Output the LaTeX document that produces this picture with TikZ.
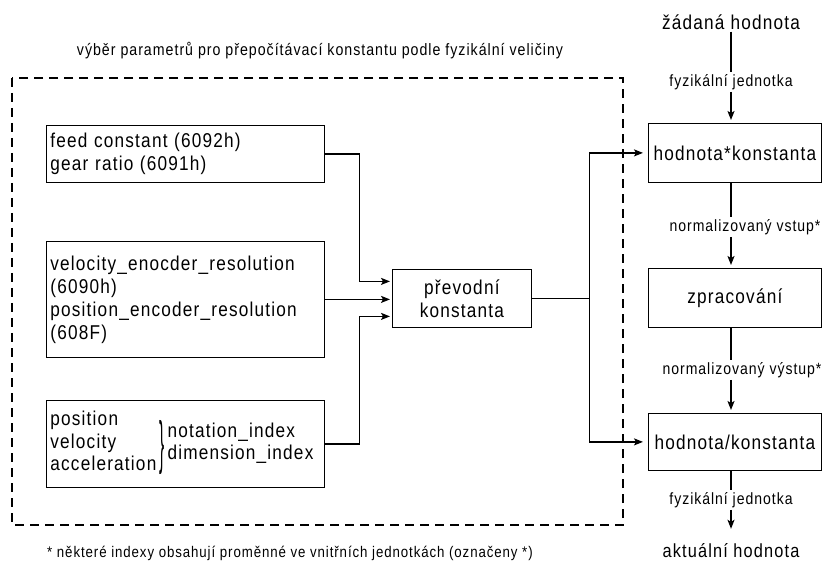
\documentclass[tikz,border=0pt]{standalone}
\usepackage{graphicx}
\usepackage{fontspec}
\setmainfont{Liberation Sans}[FakeStretch=0.86,LetterSpace=6]
\usetikzlibrary{arrows.meta,calc}

\begin{document}
\begin{tikzpicture}[x=1pt,y=-1pt,
  box/.style={draw, line width=0.8pt, inner xsep=4pt, inner ysep=0pt,
    font=\fontsize{20}{23}\selectfont},
  leftbox/.style={box, anchor=north west, text width=270pt, align=left,
    minimum width=278pt},
  rightbox/.style={box, anchor=north west, minimum width=173pt, align=center},
  wire/.style={line width=1.3pt},
  conn/.style={wire, -{Stealth[length=9pt,width=7pt,inset=2pt]}},
  frame/.style={draw, line width=1.3pt, dash pattern=on 9pt off 6pt},
  lab/.style={inner sep=2pt, font=\fontsize{16.3}{18}\selectfont},
  big/.style={inner sep=2pt, font=\fontsize{20}{23}\selectfont},
]
\useasboundingbox (0,0) rectangle (822,561);

% parameter selection frame
\draw[frame] (12,78) rectangle (623,525);
\node[font=\fontsize{16.5}{18}\selectfont] (title) at (320,51)
  {výběr parametrů pro přepočítávací konstantu podle fyzikální veličiny};
\node[anchor=west, inner sep=0pt, font=\fontsize{15.4}{17}\selectfont] (note) at (47,553)
  {* některé indexy obsahují proměnné ve vnitřních jednotkách (označeny *)};

% parameter boxes
\node[leftbox, minimum height=57pt] (fc) at (46,125)
  {feed constant (6092h)\\gear ratio (6091h)};
\node[leftbox, minimum height=116pt] (ve) at (46,241)
  {velocity\_enocder\_resolution\\(6090h)\\position\_encoder\_resolution\\(608F)};
\node[leftbox, minimum height=87pt] (pv) at (46,400)
  {\fontsize{20}{22.5}\selectfont
   \begin{tabular}[c]{@{}l@{}}position\\velocity\\acceleration\end{tabular}%
   \hspace{3pt}\raisebox{-13pt}{\scalebox{0.9}[2.9]{\}}}\hspace{3pt}%
   \begin{tabular}[c]{@{}l@{}}notation\_index\\dimension\_index\end{tabular}};

% conversion constant
\node[box, anchor=north west, minimum width=139pt, minimum height=58pt, align=center]
  (pk) at (392,269) {převodní\\konstanta};

\draw[conn, shorten >=2pt] (fc.east) -- ++(35,0) |- ([yshift=17pt]pk.west);
\draw[conn, shorten >=2pt] (ve.east) -- (ve.east -| pk.west);
\draw[conn, shorten >=2pt] (pv.east) -- ++(35,0) |- ([yshift=-18pt]pk.west);

% processing chain
\node[big] (zad) at (731,22) {žádaná hodnota};
\node[lab] (fyz1) at (731,82) {fyzikální jednotka};
\node[rightbox, minimum height=59pt] (h1) at (648,123) {hodnota*konstanta};
\node[lab] (nv1) at (745,227) {normalizovaný vstup*};
\node[rightbox, minimum height=59pt] (zp) at (648,268) {zpracování};
\node[lab] (nv2) at (742,370) {normalizovaný výstup*};
\node[rightbox, minimum height=57pt] (h2) at (648,413) {hodnota/konstanta};
\node[lab] (fyz2) at (731,500) {fyzikální jednotka};
\node[inner sep=0pt, anchor=base, font=\fontsize{19}{22}\selectfont] (akt) at (731,557)
  {aktuální hodnota};

\draw[wire] (zad.south) -- (fyz1.north);
\draw[conn, shorten >=3pt] (fyz1.south) -- (fyz1.south |- h1.north);
\draw[wire] (h1.south -| fyz1.south) -- (nv1.north -| fyz1.south);
\draw[conn, shorten >=3pt] (nv1.south -| fyz1.south) -- (zp.north -| fyz1.south);
\draw[wire] (zp.south -| fyz1.south) -- (nv2.north -| fyz1.south);
\draw[conn, shorten >=3pt] (nv2.south -| fyz1.south) -- (h2.north -| fyz1.south);
\draw[wire] (h2.south -| fyz1.south) -- (fyz2.north);
\draw[conn, shorten >=14pt] (fyz2.south) -- (akt.north);

% distribution of the constant
\draw[wire] (pk.east) -- ++(58,0) coordinate (split);
\draw[conn, shorten >=5pt] (split) |- (h1.west);
\draw[conn, shorten >=5pt] (split) |- (h2.west);
\end{tikzpicture}
\end{document}
